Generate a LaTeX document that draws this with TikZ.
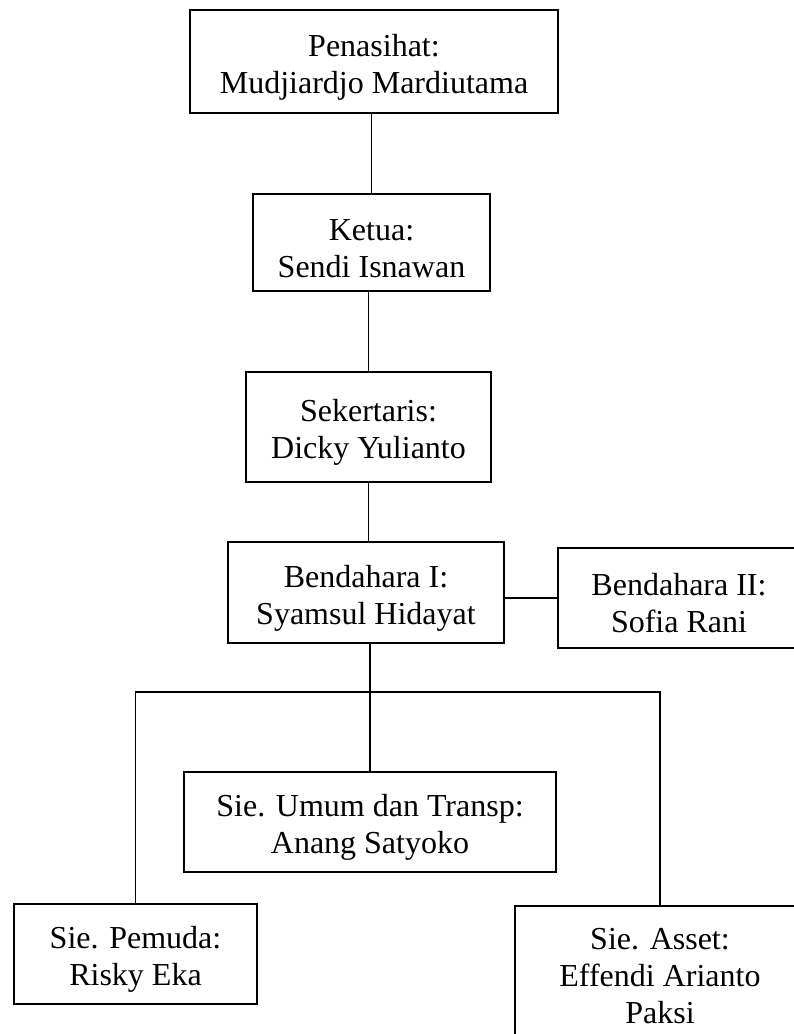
\documentclass[tikz,border=0pt]{standalone}
\usepackage{fontspec}
\setmainfont{Liberation Serif}
\usepackage{tikz}
\usetikzlibrary{calc}

\newcommand{\tegak}{\rule{0pt}{33pt}}
\tikzset{kotak/.style={draw, line width=2.8pt, align=center, inner sep=0pt,
  font=\fontsize{32}{37}\selectfont},
  garis/.style={line width=1.1pt}}

\begin{document}
\begin{tikzpicture}[x=1pt,y=-1pt]
\useasboundingbox (0,0) rectangle (794,1034);
\clip (0,0) rectangle (794,1034);
\node[kotak, minimum width=368pt, minimum height=103pt] (pen) at (374,61.5) {\tegak Penasihat:\\Mudjiardjo Mardiutama};
\node[kotak, minimum width=237pt, minimum height=97pt] (ketua) at (371.5,242.5) {\tegak Ketua:\\Sendi Isnawan};
\node[kotak, minimum width=245pt, minimum height=110pt] (sek) at (368.5,427) {\tegak Sekertaris:\\Dicky Yulianto};
\node[kotak, minimum width=276pt, minimum height=101pt] (bend1) at (366,592.5) {\tegak Bendahara I:\\Syamsul Hidayat};
\node[kotak, minimum width=242pt, minimum height=100pt] (bend2) at (679,598) {\tegak Bendahara II:\\Sofia Rani};
\node[kotak, minimum width=372pt, minimum height=100pt] (umum) at (370,822) {\tegak Sie. Umum dan Transp:\\Anang Satyoko};
\node[kotak, minimum width=243pt, minimum height=100pt] (pemuda) at (135.5,954) {\tegak Sie. Pemuda:\\Risky Eka};
\node[kotak, minimum width=290pt, minimum height=129pt] (asset) at (660,970.5) {\tegak Sie. Asset:\\Effendi Arianto\\Paksi};
% garis antar jabatan
\draw[garis] (ketua.north) -- (ketua.north |- pen.south);
\draw[garis] (sek.north) -- (sek.north |- ketua.south);
\draw[garis] (sek.south) -- (sek.south |- bend1.north);
\draw[garis] (bend2.west) -- (bend2.west -| bend1.east);
\draw[garis] (umum.north) -- (umum.north |- bend1.south);
\coordinate (cabang) at (370,692);
\draw[garis] (pemuda.north) |- (cabang) -| (asset.north);
\end{tikzpicture}
\end{document}
